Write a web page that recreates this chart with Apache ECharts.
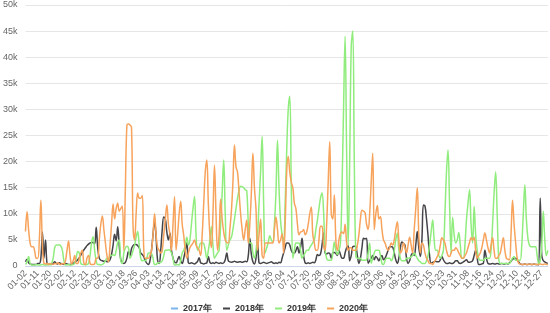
<!DOCTYPE html>
<html><head><meta charset="utf-8">
<script src="https://cdn.jsdelivr.net/npm/echarts@6/dist/echarts.min.js"></script>
<style>html,body{margin:0;padding:0;background:#fff}#c{width:550px;height:313px}</style>
</head><body><div id="c"></div>
<script>
const categories = ("01-02 01-03 01-04 01-05 01-07 01-08 01-09 01-10 " +
"01-11 01-12 01-13 01-14 01-15 01-16 01-18 01-19 " +
"01-20 01-21 01-22 01-23 01-24 01-29 01-30 01-31 " +
"02-02 02-03 02-04 02-05 02-06 02-07 02-10 02-11 " +
"02-12 02-13 02-14 02-15 02-16 02-17 02-18 02-20 " +
"02-21 02-22 02-23 02-24 02-25 02-26 02-27 02-28 " +
"03-02 03-03 03-04 03-05 03-06 03-07 03-08 03-09 " +
"03-10 03-11 03-12 03-13 03-14 03-15 03-16 03-17 " +
"03-18 03-19 03-20 03-21 03-22 03-23 03-24 03-25 " +
"03-26 03-27 03-28 03-29 03-30 03-31 04-01 04-02 " +
"04-03 04-06 04-07 04-08 04-09 04-10 04-11 04-12 " +
"04-13 04-14 04-15 04-16 04-17 04-18 04-19 04-20 " +
"04-21 04-22 04-23 04-24 04-25 04-26 04-27 04-28 " +
"04-29 04-30 05-03 05-04 05-05 05-06 05-07 05-08 " +
"05-09 05-10 05-11 05-12 05-13 05-14 05-15 05-16 " +
"05-17 05-18 05-19 05-20 05-21 05-22 05-23 05-24 " +
"05-25 05-26 05-27 05-28 05-29 05-30 05-31 06-01 " +
"06-02 06-03 06-04 06-05 06-06 06-07 06-08 06-09 " +
"06-10 06-11 06-12 06-13 06-14 06-15 06-16 06-17 " +
"06-18 06-19 06-20 06-21 06-22 06-23 06-24 06-25 " +
"06-26 06-27 06-28 06-29 06-30 07-01 07-02 07-03 " +
"07-04 07-05 07-06 07-07 07-08 07-09 07-10 07-11 " +
"07-12 07-13 07-14 07-15 07-16 07-17 07-18 07-19 " +
"07-20 07-21 07-22 07-23 07-24 07-25 07-26 07-27 " +
"07-28 07-29 07-30 07-31 08-01 08-02 08-03 08-04 " +
"08-05 08-06 08-07 08-08 08-09 08-10 08-11 08-12 " +
"08-13 08-14 08-15 08-16 08-17 08-18 08-19 08-20 " +
"08-21 08-22 08-23 08-24 08-25 08-26 08-27 08-28 " +
"08-29 08-30 08-31 09-01 09-02 09-03 09-04 09-05 " +
"09-06 09-07 09-08 09-09 09-10 09-11 09-12 09-13 " +
"09-14 09-15 09-16 09-17 09-18 09-19 09-20 09-21 " +
"09-22 09-23 09-24 09-25 09-26 09-27 09-28 09-29 " +
"09-30 10-08 10-09 10-10 10-11 10-12 10-13 10-14 " +
"10-15 10-16 10-17 10-18 10-19 10-20 10-21 10-22 " +
"10-23 10-24 10-25 10-26 10-27 10-28 10-29 10-30 " +
"10-31 11-01 11-02 11-03 11-04 11-05 11-06 11-07 " +
"11-08 11-09 11-10 11-11 11-12 11-13 11-14 11-15 " +
"11-16 11-17 11-18 11-19 11-20 11-21 11-22 11-23 " +
"11-24 11-25 11-26 11-27 11-28 11-29 11-30 12-01 " +
"12-02 12-03 12-04 12-05 12-06 12-07 12-08 12-09 " +
"12-10 12-11 12-12 12-13 12-14 12-15 12-16 12-17 " +
"12-18 12-19 12-20 12-21 12-22 12-23 12-24 12-26 " +
"12-27 12-28 12-29 12-30 12-31").split(" ");

const labelStep = 8;
const seriesNames = ["2017年", "2018年", "2019年", "2020年"];

// values in thousands
const data2017 = [];

const data2018 = [
0.8,1.3,0.6,0.4,0.3,0.3,0.3,0.3,0.5,0.5,
1.5,6.5,1.5,5,0.5,0.3,0.4,0.3,0.5,0.8,
0.5,0.4,0.6,0.5,0.4,0.3,0.5,0.4,0.3,0.3,
0.4,0.5,0.7,0.9,1.2,1.6,2.1,2.6,3.1,3.5,
3.9,4.2,4.4,4.5,4.5,4.2,7.4,3.5,1.5,1.1,
1,0.9,1,0.8,0.9,1.2,2.2,4,6.1,4.8,
7.5,4,1.2,0.6,0.5,0.7,1.5,2.8,2,3.3,
3.9,4.1,4.1,3.9,3.5,2.5,2.2,1.8,1,0.5,
0.3,1,3,6,8.8,5.5,1,0.5,3,7,
9.4,9,6.5,5,6.3,3,1.5,0.8,0.6,1.2,
1.8,1,0.5,1.5,3,4.4,0.6,0.5,0.6,0.5,
0.4,0.6,0.9,1.6,0.6,0.5,0.4,0.5,0.6,1.8,
0.7,0.5,0.6,0.5,0.7,0.6,0.5,0.6,0.5,0.6,
1.2,2.5,1,0.8,0.7,0.8,0.9,0.8,0.7,0.8,
0.8,0.7,0.8,0.9,0.8,2,5.3,2.2,0.8,0.4,
1.5,4.7,0.6,0.5,0.6,0.7,0.6,0.5,0.6,0.7,
0.8,0.6,0.5,0.6,0.5,0.7,0.6,1.5,2.5,3.5,
4.4,4.4,4,3,2.5,2.5,3,3.7,2.5,3.5,
5.3,2,0.6,0.5,0.6,0.5,0.6,0.7,0.6,1.2,
2.2,2,2.3,4,6.3,2.5,2.3,2.5,2.4,1.5,
2.5,2.6,2.4,2,3,2.2,1.5,1.5,2.5,3.5,
3.9,1,2,3.7,3.8,3.7,2,0.5,1.5,3.5,
5.3,5.2,5.3,0.5,1,1.5,2,1.2,1.8,1.5,
1,1.6,2,1.2,1.5,2.2,3,3.7,3.7,3.6,
2.5,1.2,0.5,1.5,3.5,4.6,4.3,4,1.5,0.5,
1,2,2.5,2,4,6.6,3.5,1.8,5,11.7,
11.5,9,5.8,2,0.5,0.7,0.8,0.9,0.8,0.8,
1.2,1.8,1.2,0.7,0.5,0.5,0.6,0.5,0.5,0.7,
1,1,0.6,0.5,0.6,0.8,1,1.2,0.8,0.7,
0.8,1,2,3,1.5,0.3,0.3,0.4,0.5,3,
1.5,0.5,0.4,0.4,0.5,0.4,0.4,0.5,0.4,0.4,
0.5,0.4,0.4,0.5,0.4,0.6,0.9,1.3,1.4,1.5,
1.2,0.8,0.4,0.3,0.3,0.4,0.3,0.3,0.4,0.3,
0.3,0.4,0.3,0.3,0.2,13,2,1,0.8,0.6,
0.5];

const data2019 = [
0.3,0.8,1.8,0.5,0.2,0.2,0.2,0.3,0.2,0.2,
0.2,0.3,0.2,0.2,0.2,0.3,0.2,0.5,1.5,3.5,
4,4,4,3.8,3,1,0.2,0.2,0.3,0.2,
0.2,0.3,0.5,1.5,2.8,2.5,0.5,0.3,0.3,0.2,
0.3,0.5,2,4.5,5.6,3,1,0.3,0.3,0.2,
0.3,0.5,1,1.5,1.2,2,2,2.2,2,3,
4.5,5,1,0.5,2.5,3.5,3.8,3.5,1.5,2,
3,4,5.5,6.6,4,1.5,1,1.1,1,1.5,
2.5,2.5,2.4,1.5,0.3,0.3,0.6,0.6,0.7,1,
2,3,3,3.1,3,2.5,1.5,0.2,0.2,0.3,
0.2,1,2.5,3,4,5.5,4,5,8,11,
13.3,6,3,3.5,4.4,4.4,4.3,3,1.5,3,
5,7.5,4,1.5,2,2.5,3,8,14,20.3,
10,3,4,5,5.5,7,9,11,13,14.5,
15.3,15.2,15,14.6,14.4,8.2,4.4,4.4,2.5,1.5,
3,5.9,12,18,24.8,12,2.5,3.5,4.5,5.8,
5,4.6,8,14,24.1,15,8.7,6,4.6,12,
22,30,32.5,15,1.5,3,4.4,4.4,4.4,3,
1.5,2,2.5,3,3,3.5,4,4.5,5,7,
8.8,11,13,14,10.5,3,1.5,1.1,1.1,1.1,
2.5,4.6,3,2.2,3,4.4,15,30,44,22,
4,20,42,45,20,2,1.5,1.5,1.5,1.1,
1.1,1.1,1.2,2.5,4.4,0.5,1.5,2.5,3,3,
3,2,0.5,0.3,1,1.5,1.5,1.5,1,1.5,
3,5,6.3,3,1.5,1,1,1,1.5,1.5,
1.5,1.8,2,2.5,2,1.5,1,0.8,0.5,0.5,
0.5,1,2,4,6.5,8.8,5,3,3,2,
1.5,2,3,10,18,22.2,12,2.5,9.3,6,
4.4,5,6.4,4,1.5,1.5,4,8.8,12,14.6,
8,4.4,11.4,6,3,1.5,1.1,1.1,1.1,1.5,
1.5,1.5,1.5,3,8,14,18,10,1.5,0.5,
0.5,0.5,0.5,0.5,0.5,0.5,1,1.5,1.8,1.1,
1.1,1.1,1.1,4,10,15.5,9,5.3,4,3.7,
3.7,3.7,3.7,2,0.5,1,4,10.5,5,2,
3];

const data2020 = [
6.6,10.4,7,4.4,3.7,3.7,2.8,1.5,1.5,5,
12.6,4,0.5,0.4,0.5,0.3,0.5,0.4,0.3,0.5,
0.4,0.6,0.4,0.3,0.5,0.4,1,3,4.8,2,
0.4,1,2,0.5,0.5,1.5,2.5,3,0.5,0.3,
1.5,2,0.5,0.3,0.3,0.4,1.5,1.5,5,8,
9.6,7,4.4,2,0.8,4,8,11.9,9,11,
12,10.5,11,11.5,3,15,27,27.2,27,26.5,
7.5,5,10,14,13,13,13.5,3,1.5,1.5,
1.5,2,3,6,10,6,3.5,3,2.5,3,
6,9,11.7,8,6,3,8,13.3,3,6,
10,12.4,8,5.8,3,1.5,2.5,3.5,4,4.4,
5,4,3.5,3,2,6,12,18,20.3,12,
6,3.5,10,19.3,10,3,6,12.8,9,6.5,
5,4.5,4.4,7,10.5,16,23.2,19,18,14,
10,7,5,7,8.8,4.4,8,14,21.6,15,
11,3,6,9,2,1.5,4.4,4.4,4.4,4.4,
4.4,4.4,7,9.4,7,4.4,5,6.2,2.5,8,
18,21,18,16,15,12,11,8,6,6.5,
6.6,7,6,6.5,8,10,11.3,6,4.4,3,
3,5,7.6,7.6,4,3,8,16,23.8,10,
9,13.6,5,3,5,6.2,6.5,6.2,8,4.5,
3,3.5,3.5,3,3,3,4,6,9,10.7,
10.5,10.2,8,7,10,16,21.6,7,10,11.6,
9,9.5,7,5,4.4,3.5,3,3.5,4.4,4,
5,7,8.5,5,2.5,3,4.4,3.5,2.5,4,
5.5,4,2.5,7,11,15,6,2.5,4.4,4,
2.5,1.5,1,0.5,0.5,0.3,0.8,1.2,1.8,2.5,
4,5.4,5,4.4,3,2,1.8,2.5,3,3,
3.5,3.2,2.5,2,1.5,1.5,2,2.5,3.5,4.5,
5.4,5,5.5,3,1.5,2,2.5,3.5,5,6.3,
5,3.5,2.5,4,5.4,3,1.5,1.5,2,2.5,
4,5.4,3,1.5,1.3,1.2,6,12.6,8,4.5,
1.5,0.5,0.4,0.3,0.3,0.4,0.3,0.3,0.4,0.3,
0.3,0.4,0.3,0.3,0.3,0.4,0.3,0.3,0.4,0.3,
0.3];

const colors = ["#7cb5ec", "#434348", "#90ed7d", "#f7a35c"];
const allData = [data2017, data2018, data2019, data2020];
const font = 'Liberation Sans, Arial, sans-serif';

const chart = echarts.init(document.getElementById('c'), null, {renderer: 'canvas'});
chart.setOption({
  animation: false,
  color: colors,
  grid: {left: 23, right: 2, top: 5, bottom: 47, containLabel: false},
  legend: {
    data: seriesNames,
    left: 166, top: 299,
    icon: 'rect', itemWidth: 7, itemHeight: 2, itemGap: 11,
    textStyle: {color: '#333', fontSize: 9, fontWeight: 'bold', fontFamily: font}
  },
  xAxis: {
    type: 'category', data: categories, boundaryGap: false,
    axisLine: {lineStyle: {color: '#ccd6eb'}},
    axisTick: {show: false},
    axisLabel: {interval: 0, rotate: 45, fontSize: 9, color: '#666', margin: 6,
      fontFamily: font,
      formatter: (v, i) => (i % labelStep === 0 ? v : '')},
    splitLine: {show: false}
  },
  yAxis: {
    type: 'value', min: 0, max: 50, interval: 5,
    axisLine: {show: false}, axisTick: {show: false},
    axisLabel: {fontSize: 9, color: '#666', margin: 8, fontFamily: font,
      formatter: v => v === 0 ? '0' : v + 'k'},
    splitLine: {lineStyle: {color: '#e6e6e6'}}
  },
  series: seriesNames.map((n, i) => ({
    name: n, type: 'line', data: allData[i], smooth: 0.4,
    showSymbol: false, symbol: 'none',
    lineStyle: {width: 1.5, color: colors[i]}
  }))
});
</script></body></html>
